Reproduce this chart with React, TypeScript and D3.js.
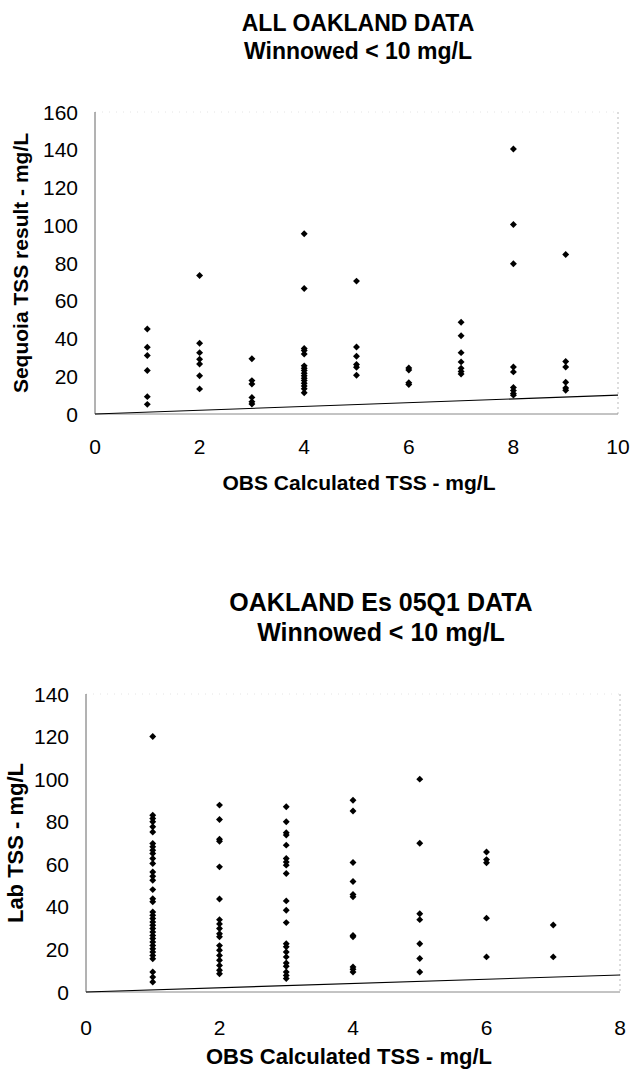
import React from 'react';
import * as d3 from 'd3';

// Top chart: ALL OAKLAND DATA (Sequoia TSS vs OBS calculated TSS)
const topObs = [1, 2, 3, 4, 5, 6, 7, 8, 9];
const topSequoia: number[][] = [
    [45, 35.4, 31, 23, 9.2, 5.1],
    [73.4, 37.5, 32.5, 29, 26.5, 20.3, 13.3],
    [29.3, 17.7, 15.9, 8.8, 6.5, 5.3],
    [95.5, 66.5, 34.7, 33.6, 31.8, 25.5, 24.2, 23, 21.6, 20.2, 18.9, 17.7, 16.3, 14.9, 13.4, 11.3],
    [70.4, 35.5, 30.6, 26.2, 24.8, 20.5],
    [24.4, 23.3, 16.6, 15.6],
    [48.6, 41.5, 32.5, 27.6, 24.2, 22.5, 21.2],
    [140.4, 100.4, 79.6, 24.9, 22.3, 14, 12.4, 10.8, 10],
    [84.5, 27.8, 24.9, 16.8, 13.8, 12.6],
];
const topXTicks = [0, 2, 4, 6, 8, 10];
const topYTicks = [0, 20, 40, 60, 80, 100, 120, 140, 160];

// Bottom chart: OAKLAND Es 05Q1 DATA (Lab TSS vs OBS calculated TSS)
const bottomObs = [1, 2, 3, 4, 5, 6, 7];
const bottomLab: number[][] = [
    [120, 83, 81.5, 80, 77.6, 75.2, 69.8, 68.2, 66.6, 65.1, 62.7, 60.4, 56.4, 54.4, 52.5, 48.1, 43.8, 42.4,
        37.6, 36, 34.5, 32.9, 31.4, 29.8, 28.2, 26.6, 25.1, 23.5, 21.9, 20.3, 18.8, 17.2, 15.6, 9.4, 7, 4.7],
    [87.8, 81, 71.8, 70.8, 58.8, 43.7, 34, 32, 29.8, 27.4, 25.9, 21.8, 19.6, 17.2, 14.9, 12.5, 10.2, 8.6],
    [87, 80, 74.8, 73.7, 69, 62.7, 61.1, 59.6, 55.7, 42.8, 38.4, 32.6, 22.7, 21.2, 18.8, 16.5, 13.6, 12.1, 9.4, 7.8, 6.3],
    [90.1, 85, 60.8, 51.9, 45.8, 44.7, 26.6, 25.9, 11.8, 10.7, 9.4],
    [100, 69.9, 36.8, 34, 22.7, 15.7, 9.4],
    [65.8, 62.2, 60.7, 34.7, 16.5],
    [31.5, 16.5],
];
const bottomXTicks = [0, 2, 4, 6, 8];
const bottomYTicks = [0, 20, 40, 60, 80, 100, 120, 140];

const FONT = "'Liberation Sans', Arial, Helvetica, sans-serif";

interface PanelProps {
    titles: string[];
    titleY: number[];
    titleX: number;
    titleSize: number;
    axisTitleSize: number;
    xLabel: string;
    xLabelX: number;
    xLabelY: number;
    yLabel: string;
    yLabelX: number;
    obs: number[];
    values: number[][];
    xTicks: number[];
    yTicks: number[];
    left: number;
    right: number;
    top: number;
    bottom: number;
    xTickY: number;
    labelSize: number;
}

const diamond = d3.symbol().type(d3.symbolSquare).size(24)() as string;

const Panel: React.FC<PanelProps> = (p) => {
    const xMax = p.xTicks[p.xTicks.length - 1];
    const yMax = p.yTicks[p.yTicks.length - 1];
    const x = d3.scaleLinear().domain([0, xMax]).range([p.left, p.right]);
    const y = d3.scaleLinear().domain([0, yMax]).range([p.bottom, p.top]);

    const points = p.obs.flatMap((o, i) => p.values[i].map(v => ({ o, v })));
    // 1:1 reference line
    const fit = d3.line<number>().x(d => x(d)).y(d => y(d))([0, xMax]) as string;

    return (
        <g fontFamily={FONT}>
            {p.titles.map((t, i) => (
                <text key={t} x={p.titleX} y={p.titleY[i]} textAnchor="middle"
                    fontWeight="bold" fontSize={p.titleSize}>{t}</text>
            ))}

            {/* faint frame */}
            <line x1={p.right} x2={p.right} y1={p.top} y2={p.bottom}
                stroke="#bbb" strokeDasharray="2,3" />
            <line x1={p.left} x2={p.right} y1={p.top} y2={p.top}
                stroke="#e4e4e4" strokeDasharray="1,6" />

            {/* axes */}
            <line x1={p.left} x2={p.left} y1={p.top} y2={p.bottom} stroke="#666" />
            <line x1={p.left} x2={p.right} y1={p.bottom} y2={p.bottom} stroke="#888" />

            {p.yTicks.map(t => (
                <text key={t} x={p.left - 17} y={y(t)} dy="0.36em" textAnchor="end"
                    fontSize={p.labelSize}>{t}</text>
            ))}
            {p.xTicks.map(t => (
                <text key={t} x={x(t)} y={p.xTickY} textAnchor="middle"
                    fontSize={p.labelSize}>{t}</text>
            ))}

            <path d={fit} stroke="#000" strokeWidth={1.1} fill="none" />

            {points.map((d, i) => (
                <path key={i} d={diamond}
                    transform={`translate(${x(d.o)},${y(d.v)}) rotate(45)`} fill="#000" />
            ))}

            <text x={p.xLabelX} y={p.xLabelY} textAnchor="middle" fontWeight="bold"
                fontSize={p.axisTitleSize}>{p.xLabel}</text>
            <text transform={`translate(${p.yLabelX},${(p.top + p.bottom) / 2}) rotate(-90)`}
                textAnchor="middle" fontWeight="bold" fontSize={p.axisTitleSize}>{p.yLabel}</text>
        </g>
    );
};

const App: React.FC = () => {
    return (
        <svg width={635} height={1074}
            style={{ position: 'absolute', left: 0, top: 0, background: '#fff' }}>
            <Panel
                titles={['ALL OAKLAND DATA', 'Winnowed < 10 mg/L']}
                titleY={[31, 59]}
                titleX={358}
                titleSize={23}
                axisTitleSize={21}
                xLabel="OBS Calculated TSS - mg/L"
                xLabelX={359}
                xLabelY={490}
                yLabel="Sequoia TSS result - mg/L"
                yLabelX={28}
                obs={topObs}
                values={topSequoia}
                xTicks={topXTicks}
                yTicks={topYTicks}
                left={95}
                right={618}
                top={112}
                bottom={414}
                xTickY={454}
                labelSize={21}
            />
            <Panel
                titles={['OAKLAND Es 05Q1 DATA', 'Winnowed < 10 mg/L']}
                titleY={[611, 641]}
                titleX={381}
                titleSize={25}
                axisTitleSize={22}
                xLabel="OBS Calculated TSS - mg/L"
                xLabelX={349}
                xLabelY={1064}
                yLabel="Lab TSS - mg/L"
                yLabelX={23}
                obs={bottomObs}
                values={bottomLab}
                xTicks={bottomXTicks}
                yTicks={bottomYTicks}
                left={86}
                right={620}
                top={694}
                bottom={992}
                xTickY={1035}
                labelSize={21}
            />
        </svg>
    );
};

export default App;
